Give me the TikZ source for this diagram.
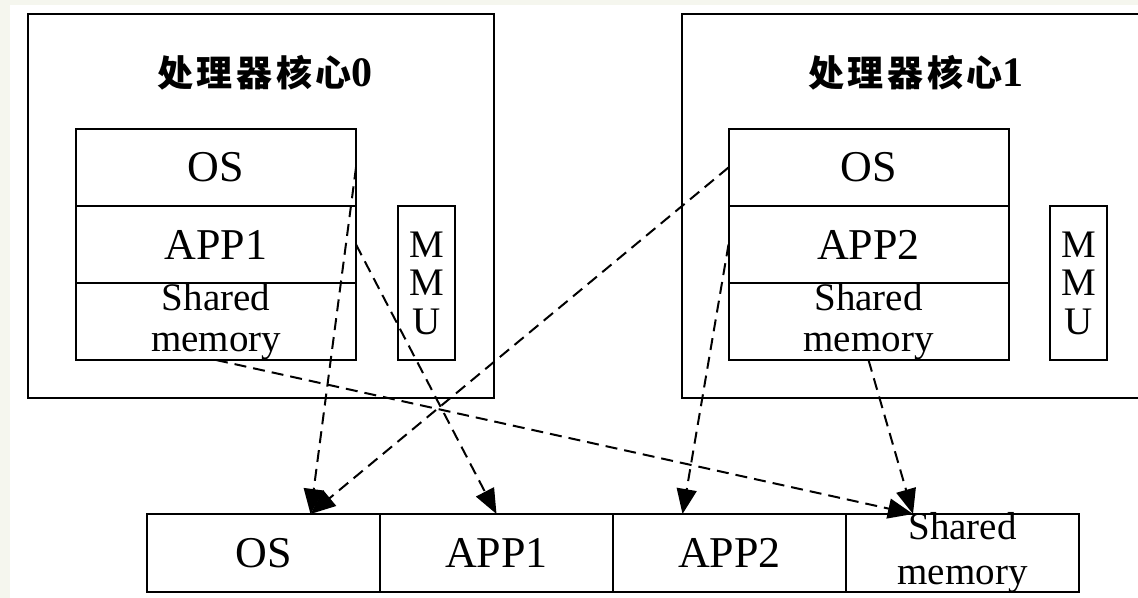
\documentclass[tikz,border=0pt]{standalone}
\usepackage{fontspec}
\setmainfont{Liberation Serif}
\newfontfamily\cjkfont[LetterSpace=10]{Noto Sans CJK SC}
\usetikzlibrary{arrows.meta,positioning}
\definecolor{bgpaper}{rgb}{0.961,0.965,0.933}

\begin{document}
\begin{tikzpicture}[line cap=butt,line join=miter,>={Triangle[length=12.5pt,width=10pt]},x=0.5pt,y=-0.5pt,
  core/.style={draw,line width=1pt,inner sep=0pt,outer sep=0pt,minimum height=192pt},
  cell/.style={draw,line width=1pt,minimum width=140pt,minimum height=38.5pt,inner sep=0pt,outer sep=0pt,align=center,font=\fontsize{22pt}{19pt}\selectfont},
  shcell/.style={cell,font=\fontsize{19.5pt}{20.5pt}\selectfont},
  mmu/.style={draw,line width=1pt,minimum width=28.5pt,minimum height=77pt,inner sep=0pt,outer sep=0pt,align=center,font=\fontsize{19.5pt}{19.25pt}\selectfont},
  slot/.style={draw,line width=1pt,minimum width=116.5pt,minimum height=39pt,inner sep=0pt,outer sep=0pt,font=\fontsize{22pt}{22.5pt}\selectfont},
  coretitle/.style={font=\fontsize{21pt}{22pt}\selectfont\bfseries,inner sep=0pt},
  map/.style={->,line width=1pt,dash pattern=on 6pt off 3.5pt}]
\clip (0,0) rectangle (1138,598);
\fill[bgpaper] (0,0) rectangle (1138,598);
\fill[white] (10,5) rectangle (1138,598);
% processor cores
\node[core,minimum width=233pt] (core0) at (261,206) {};
\node[core,minimum width=234pt] (core1) at (916,206) {};
\node[coretitle] (title0) at (265,73) {{\cjkfont\fontsize{18pt}{20pt}\selectfont 处理器核心}0};
\node[coretitle] (title1) at (916,73) {{\cjkfont\fontsize{18pt}{20pt}\selectfont 处理器核心}1};
\node[cell] (os0) at (216,167.5) {OS};
\node[cell,below=0pt of os0] (app0) {APP1};
\node[shcell,below=0pt of app0] (shm0) {Shared\\memory};
\node[mmu] (mmu0) at (426.5,283) {M\\M\\U};
\node[cell] (os1) at (868.5,167.5) {OS};
\node[cell,below=0pt of os1] (app2) {APP2};
\node[shcell,below=0pt of app2] (shm1) {Shared\\memory};
\node[mmu] (mmu1) at (1078.5,283) {M\\M\\U};
% physical memory
\node[slot] (bos) at (263.5,553) {OS};
\node[slot,right=0pt of bos] (bapp1) {APP1};
\node[slot,right=0pt of bapp1] (bapp2) {APP2};
\node[slot,right=0pt of bapp2,label={[align=center,inner sep=0pt,font=\fontsize{19.5pt}{22.5pt}\selectfont]center:Shared\\memory}] (bshm) {};
\coordinate (osin) at ([xshift=23.5pt]bos.north);
\coordinate (shmin) at ([xshift=-24.75pt]bshm.north);
\draw[map] (os0.east) -- (osin);
\draw[map] (app0.east) -- (bapp1.north);
\draw[map] (os1.west) -- (osin);
\draw[map] (app2.west) -- ([xshift=-23.5pt]bapp2.north);
\draw[map] (shm1.south) -- (shmin);
\draw[map] (shm0.south) -- (shmin);
\end{tikzpicture}
\end{document}
